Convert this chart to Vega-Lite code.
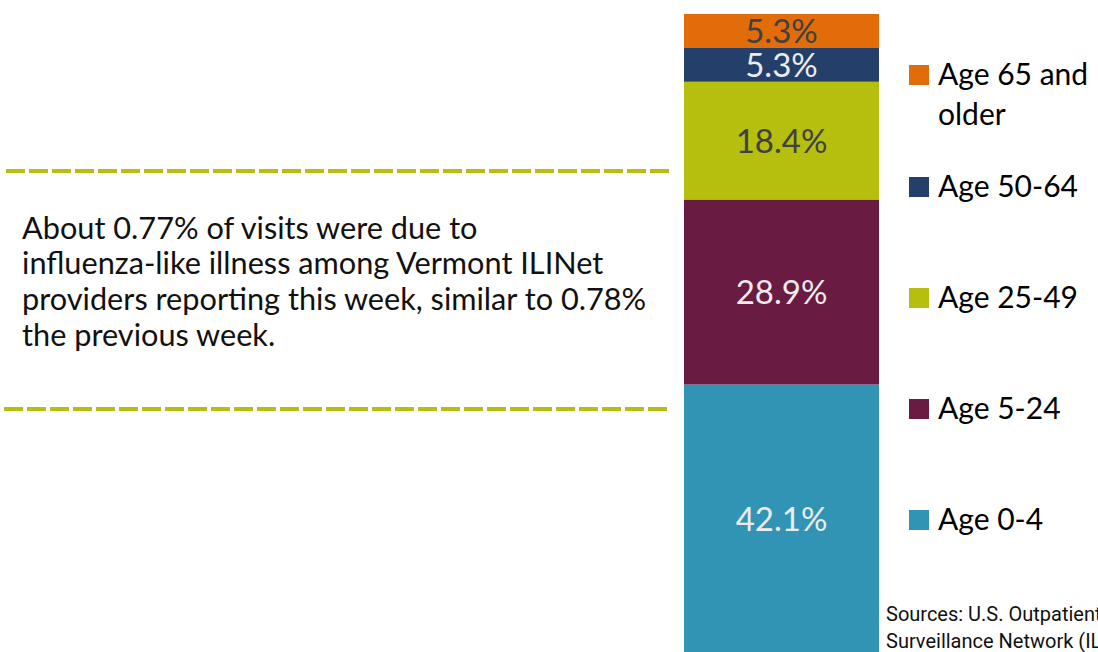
{
  "$schema": "https://vega.github.io/schema/vega-lite/v6.json",
  "padding": {"left": 0, "top": 14, "right": 0, "bottom": 0},
  "background": "white",
  "spacing": 0,
  "config": {
    "view": {"stroke": null},
    "concat": {"spacing": 0},
    "style": {"guide-label": {"lineHeight": 40}}
  },
  "datasets": {
    "visits": [
      {"age": "Age 0-4", "share": 0.421, "rank": 1},
      {"age": "Age 5-24", "share": 0.289, "rank": 2},
      {"age": "Age 25-49", "share": 0.184, "rank": 3},
      {"age": "Age 50-64", "share": 0.053, "rank": 4},
      {"age": "Age 65 and older", "share": 0.053, "rank": 5}
    ]
  },
  "hconcat": [
    {
      "width": 684,
      "height": 640,
      "data": {"values": [{}]},
      "layer": [
        {
          "mark": {"type": "rule", "color": "#b6bf0f", "strokeWidth": 4, "strokeDash": [19, 4]},
          "encoding": {
            "x": {"datum": 0.88, "type": "quantitative", "scale": {"domain": [0, 100], "nice": false}, "axis": null},
            "x2": {"datum": 98.2},
            "y": {"datum": 75.47, "type": "quantitative", "scale": {"domain": [0, 100], "nice": false}, "axis": null}
          }
        },
        {
          "mark": {"type": "rule", "color": "#b6bf0f", "strokeWidth": 4, "strokeDash": [19, 4]},
          "encoding": {
            "x": {"datum": 0.585, "type": "quantitative"},
            "x2": {"datum": 97.66},
            "y": {"datum": 38.28, "type": "quantitative"}
          }
        },
        {
          "mark": {"type": "text", "align": "left", "baseline": "middle", "font": "Lato", "fontSize": 30.7, "lineHeight": 35.7, "color": "#111111"},
          "encoding": {
            "x": {"datum": 3.22, "type": "quantitative"},
            "y": {"datum": 66.3, "type": "quantitative"},
            "text": {"value": [
              "About 0.77% of visits were due to",
              "influenza-like illness among Vermont ILINet",
              "providers reporting this week, similar to 0.78%",
              "the previous week."
            ]}
          }
        }
      ]
    },
    {
      "width": 195,
      "height": 640,
      "layer": [
        {
          "data": {"name": "visits"},
          "transform": [
            {"stack": "share", "groupby": [], "sort": [{"field": "rank", "order": "ascending"}], "as": ["lo", "hi"]},
            {"calculate": "(datum.lo + datum.hi) / 2", "as": "mid"}
          ],
          "layer": [
            {
              "mark": {"type": "bar"},
              "encoding": {
                "x": {"datum": "ILINet visits", "type": "nominal", "scale": {"paddingInner": 0, "paddingOuter": 0}, "axis": null},
                "y": {"field": "lo", "type": "quantitative", "scale": {"domain": [0, 1], "nice": false}, "axis": null},
                "y2": {"field": "hi"},
                "color": {
                  "field": "age",
                  "type": "nominal",
                  "scale": {
                    "domain": ["Age 65 and older", "Age 50-64", "Age 25-49", "Age 5-24", "Age 0-4"],
                    "range": ["#e36c0a", "#253f6b", "#b6bf0e", "#6a1b41", "#3194b5"]
                  },
                  "legend": {
                    "orient": "none",
                    "direction": "vertical",
                    "legendX": 904,
                    "legendY": 26,
                    "title": null,
                    "padding": 0,
                    "symbolType": "M-1,-2H1V0H-1Z",
                    "symbolSize": 400,
                    "symbolStrokeWidth": 0,
                    "labelFont": "Lato",
                    "labelFontSize": 30,
                    "labelColor": "#000000",
                    "labelOffset": 4,
                    "labelBaseline": "alphabetic",
                    "labelLimit": 400,
                    "rowPadding": 21,
                    "clipHeight": 90,
                    "labelExpr": "datum.label == 'Age 65 and older' ? ['Age 65 and', 'older'] : datum.label"
                  }
                }
              }
            },
            {
              "mark": {"type": "text", "font": "Lato", "fontSize": 33, "baseline": "middle", "align": "center", "dy": 2},
              "encoding": {
                "x": {"datum": "ILINet visits", "type": "nominal"},
                "y": {"field": "mid", "type": "quantitative"},
                "text": {"field": "share", "type": "quantitative", "format": ".1%"},
                "color": {
                  "condition": {"test": "datum.age === 'Age 65 and older' || datum.age === 'Age 25-49'", "value": "#404040"},
                  "value": "#ececec"
                }
              }
            }
          ]
        },
        {
          "data": {"values": [{}]},
          "mark": {"type": "text", "font": "Roboto", "fontSize": 20, "align": "left", "baseline": "middle", "lineHeight": 27, "color": "#111111"},
          "encoding": {
            "x": {"value": 202},
            "y": {"datum": 0.061, "type": "quantitative"},
            "text": {"value": ["Sources: U.S. Outpatient Influenza-like Illness", "Surveillance Network (ILINet)"]}
          }
        }
      ]
    }
  ]
}
